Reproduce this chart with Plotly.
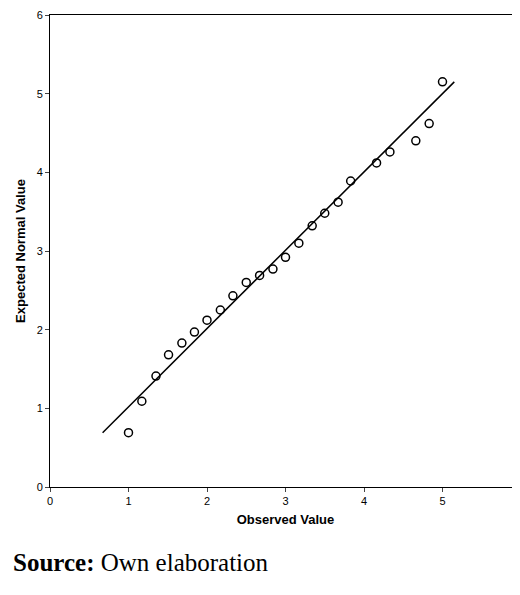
import plotly.graph_objects as go

obs = [1.0,1.17,1.35,1.51,1.68,1.84,2.0,2.17,2.33,2.5,2.67,2.84,3.0,3.17,3.34,3.5,3.67,3.83,4.16,4.33,4.66,4.83,5.0]
exp = [0.69,1.09,1.41,1.68,1.83,1.97,2.12,2.25,2.43,2.60,2.69,2.77,2.92,3.10,3.32,3.48,3.62,3.89,4.12,4.26,4.40,4.62,5.15]
line_x = [0.67, 5.15]
line_y = [0.69, 5.15]

fig = go.Figure()
fig.add_trace(go.Scatter(x=line_x, y=line_y, mode="lines", line=dict(color="black", width=1.5), showlegend=False))
fig.add_trace(go.Scatter(x=obs, y=exp, mode="markers",
    marker=dict(symbol="circle-open", size=8, color="black", line=dict(width=1.5)), showlegend=False))

ax = dict(range=[0, 6], tickvals=[0,1,2,3,4,5,6], showgrid=False, zeroline=False,
          showline=True, linecolor="black", linewidth=1, mirror=True, automargin=False,
          ticks="outside", ticklen=4, tickfont=dict(family="Arial", size=11, color="black"))
fig.update_layout(
    width=520, height=595, margin=dict(l=42, r=7, t=7, b=116),
    plot_bgcolor="white", paper_bgcolor="white",
    xaxis=dict(ax, title=dict(text="<b>Observed Value</b>", font=dict(family="Arial", size=13, color="black"), standoff=8)),
    yaxis=dict(ax, title=dict(text="<b>Expected Normal Value</b>", font=dict(family="Arial", size=13, color="black"), standoff=8)),
)
fig.add_annotation(text="<b>Source:</b> Own elaboration", xref="paper", yref="paper",
    x=-0.082, y=-0.16, xanchor="left", yanchor="middle", showarrow=False,
    font=dict(family="Liberation Serif", size=25, color="black"))
fig.write_html("out.html")
